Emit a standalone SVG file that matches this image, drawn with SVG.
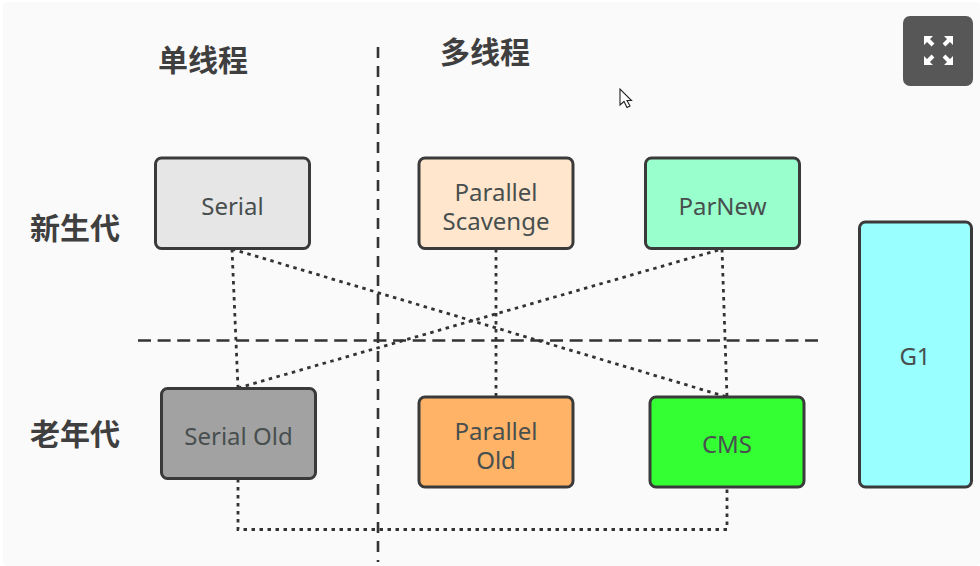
<svg xmlns="http://www.w3.org/2000/svg" width="980" height="566" viewBox="0 0 980 566">
<style>
.n{stroke:#3a3a3a;stroke-width:3}
.t{font-family:"Noto Sans","Open Sans","DejaVu Sans",sans-serif;font-size:24px;fill:#484f4f;text-anchor:middle}
.h{font-family:"Noto Sans CJK SC","Noto Sans",sans-serif;font-size:30px;font-weight:700;fill:#3f3f3f;text-anchor:middle}
.dot{fill:none;stroke:#333;stroke-width:2.800;stroke-dasharray:3.500 4.500}
.dash{fill:none;stroke:#333;stroke-width:2.600}
.ic{fill:none;stroke:#fff;stroke-width:4}
.ih{fill:#fff}
</style>
<rect width="980" height="566" fill="#fff"/>
<rect x="3" y="2" width="977" height="564" rx="4" fill="#fafafa"/>
<g id="connectors">
<path class="dash" stroke-dasharray="11 8" d="M378 47V562"/>
<path class="dash" stroke-dasharray="13 6.620" d="M138 340.500H818"/>
<path class="dot" d="M232 249L238 388"/>
<path class="dot" d="M232 249L727 397"/>
<path class="dot" d="M238 388L722 249"/>
<path class="dot" d="M496 249V396"/>
<path class="dot" d="M722 249L727 397"/>
<path class="dot" d="M238 479V529.500H727V488"/>
</g>
<g id="header-single"><text class="h" x="203" y="71">单线程</text></g>
<g id="header-multi"><text class="h" x="485" y="63">多线程</text></g>
<g id="label-young"><text class="h" x="75" y="239">新生代</text></g>
<g id="label-old"><text class="h" x="75" y="445">老年代</text></g>
<g id="serial"><rect class="n" x="155.500" y="158" width="154" height="90.500" rx="6" fill="#e6e6e6"/><text class="t" x="232.500" y="215">Serial</text></g>
<g id="parallel-scavenge"><rect class="n" x="419" y="158" width="154" height="90.500" rx="6" fill="#ffe6cc"/><text class="t"><tspan x="496" y="201">Parallel</tspan><tspan x="496" y="230">Scavenge</tspan></text></g>
<g id="parnew"><rect class="n" x="645.500" y="158" width="154" height="90.500" rx="6" fill="#99ffcc"/><text class="t" x="722.500" y="215">ParNew</text></g>
<g id="serial-old"><rect class="n" x="161.500" y="388.500" width="154" height="90" rx="6" fill="#a2a2a2"/><text class="t" x="238.500" y="445">Serial Old</text></g>
<g id="parallel-old"><rect class="n" x="419" y="397" width="154" height="90" rx="6" fill="#ffb366"/><text class="t"><tspan x="496" y="440">Parallel</tspan><tspan x="496" y="469">Old</tspan></text></g>
<g id="cms"><rect class="n" x="650" y="397" width="154" height="90" rx="6" fill="#33ff33"/><text class="t" x="727" y="453">CMS</text></g>
<g id="g1"><rect class="n" x="859.500" y="222" width="112" height="265" rx="6" fill="#99ffff"/><text class="t" x="915" y="365">G1</text></g>
<g id="fullscreen-button">
<rect x="903" y="16" width="70" height="70" rx="7" fill="#575757"/>
<path class="ic" d="M933 45L928 40M944 45L949 40M933 56L928 61M944 56L949 61"/>
<path class="ih" d="M924 36H933L924 45ZM953 36H944L953 45ZM924 65H933L924 56ZM953 65H944L953 56Z"/>
</g>
<g id="cursor"><path d="M620 89V105L624 101.500L627 107.500L630 106L627 100.500H631.500Z" fill="#fff" stroke="#222" stroke-width="1.100"/></g>
</svg>
